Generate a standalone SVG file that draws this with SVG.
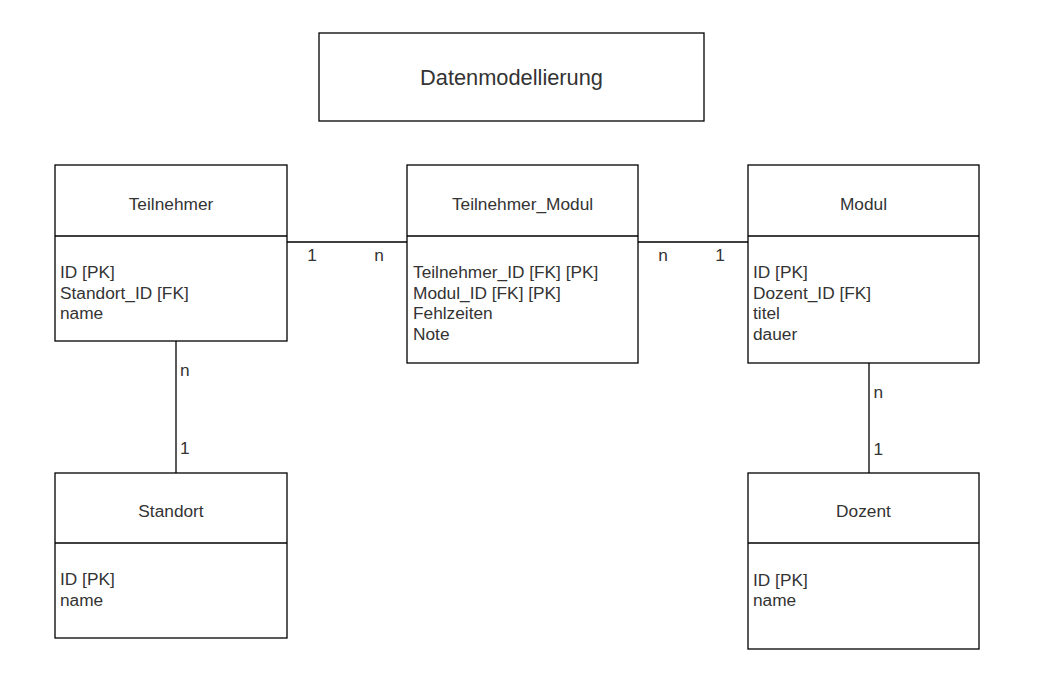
<svg xmlns="http://www.w3.org/2000/svg" width="1044" height="691" viewBox="0 0 1044 691">
<style>
.box{fill:#fff;stroke:#000;stroke-width:1.3}
.div{stroke:#000;stroke-width:1.3}
.con{stroke:#000;stroke-width:1.3;fill:none}
text{font-family:"Liberation Sans",Arial,sans-serif;fill:#333;font-size:17.3px}
.h{text-anchor:middle}
.t{font-size:21.8px;text-anchor:middle}
.lbl{font-size:17.3px}
.c{text-anchor:middle}
</style>
<rect width="1044" height="691" fill="#fff"/>
<g id="title">
<rect class="box" x="319" y="33" width="385" height="88"/>
<text class="t" x="511.5" y="85">Datenmodellierung</text>
</g>
<g id="connectors">
<line class="con" x1="287" y1="242" x2="407" y2="242"/>
<text class="lbl c" x="312" y="260.5">1</text>
<text class="lbl c" x="379" y="260.5">n</text>
<line class="con" x1="638" y1="242" x2="748" y2="242"/>
<text class="lbl c" x="663" y="260.5">n</text>
<text class="lbl c" x="720" y="260.5">1</text>
<line class="con" x1="176" y1="341" x2="176" y2="473"/>
<text class="lbl" x="180" y="376">n</text>
<text class="lbl" x="180" y="454">1</text>
<line class="con" x1="869" y1="363" x2="869" y2="473"/>
<text class="lbl" x="873.5" y="397.5">n</text>
<text class="lbl" x="873.5" y="455">1</text>
</g>
<g id="teilnehmer">
<rect class="box" x="55" y="165" width="232" height="176"/>
<line class="div" x1="55" y1="236" x2="287" y2="236"/>
<text class="h" x="171" y="210">Teilnehmer</text>
<text x="60" y="278">ID [PK]</text>
<text x="60" y="298.6">Standort_ID [FK]</text>
<text x="60" y="319.2">name</text>
</g>
<g id="teilnehmer_modul">
<rect class="box" x="407" y="165" width="231" height="198"/>
<line class="div" x1="407" y1="236" x2="638" y2="236"/>
<text class="h" x="522.5" y="210">Teilnehmer_Modul</text>
<text x="413" y="278">Teilnehmer_ID [FK] [PK]</text>
<text x="413" y="298.6">Modul_ID [FK] [PK]</text>
<text x="413" y="319.2">Fehlzeiten</text>
<text x="413" y="339.8">Note</text>
</g>
<g id="modul">
<rect class="box" x="748" y="165" width="231" height="198"/>
<line class="div" x1="748" y1="236" x2="979" y2="236"/>
<text class="h" x="863.5" y="210">Modul</text>
<text x="753" y="278">ID [PK]</text>
<text x="753" y="298.6">Dozent_ID [FK]</text>
<text x="753" y="319.2">titel</text>
<text x="753" y="339.8">dauer</text>
</g>
<g id="standort">
<rect class="box" x="55" y="473" width="232" height="165"/>
<line class="div" x1="55" y1="543" x2="287" y2="543"/>
<text class="h" x="171" y="517">Standort</text>
<text x="60" y="585">ID [PK]</text>
<text x="60" y="605.6">name</text>
</g>
<g id="dozent">
<rect class="box" x="748" y="473" width="231" height="176"/>
<line class="div" x1="748" y1="543" x2="979" y2="543"/>
<text class="h" x="863.5" y="517">Dozent</text>
<text x="753" y="585.5">ID [PK]</text>
<text x="753" y="606">name</text>
</g>
</svg>
